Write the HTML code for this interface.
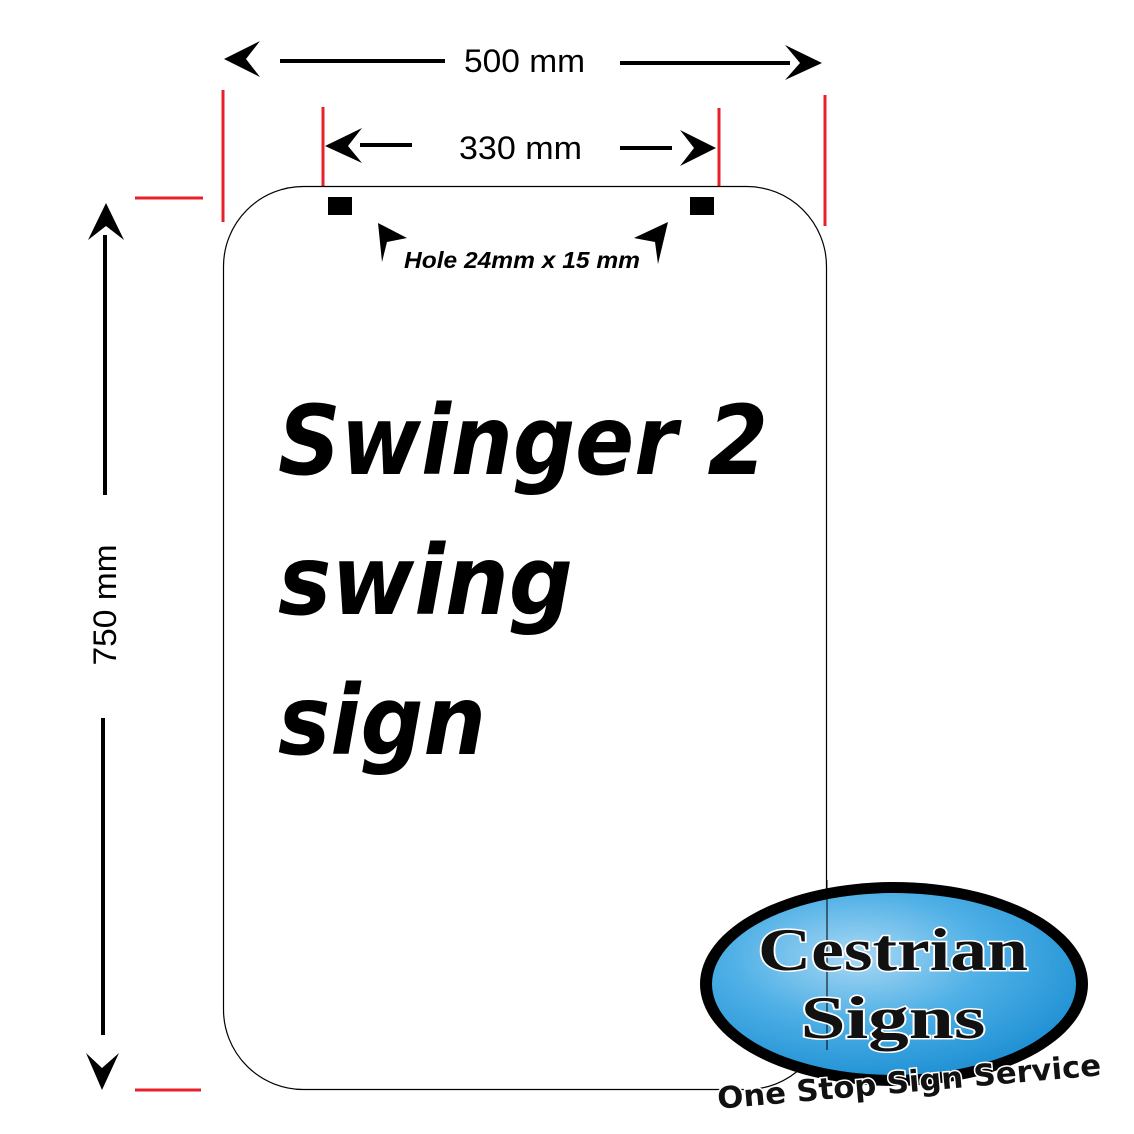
<!DOCTYPE html>
<html><head><meta charset="utf-8"><style>
html,body{margin:0;padding:0;background:#fff;}
svg{display:block;}
</style></head><body>
<svg width="1134" height="1134" viewBox="0 0 1134 1134" xmlns="http://www.w3.org/2000/svg">
<defs>
<radialGradient id="bl" cx="0.4" cy="0.35" r="0.7">
<stop offset="0" stop-color="#a9d8f4"/>
<stop offset="0.5" stop-color="#4fb0e6"/>
<stop offset="1" stop-color="#1d8fd3"/>
</radialGradient>
</defs>
<!-- 500 mm -->
<line x1="280" y1="61" x2="445" y2="61" stroke="#000" stroke-width="4"/>
<line x1="620" y1="63" x2="790" y2="63" stroke="#000" stroke-width="4"/>
<path d="M224,59 L260,41 L246,59 L260,77 Z" fill="#000"/>
<path d="M822,63 L785,45 L800,63 L785,80 Z" fill="#000"/>
<text x="464" y="72" font-family="Liberation Sans, sans-serif" font-size="32" textLength="121" lengthAdjust="spacingAndGlyphs">500 mm</text>
<!-- red lines -->
<g stroke="#e8202a" stroke-width="3">
<line x1="223" y1="90" x2="223" y2="222"/>
<line x1="825" y1="95" x2="825" y2="226"/>
<line x1="323" y1="107" x2="323" y2="186"/>
<line x1="719" y1="108" x2="719" y2="186"/>
<line x1="135" y1="198" x2="203" y2="198"/>
<line x1="135" y1="1090" x2="201" y2="1090"/>
</g>
<!-- 330 mm -->
<line x1="360" y1="145" x2="412" y2="145" stroke="#000" stroke-width="4"/>
<line x1="620" y1="148" x2="672" y2="148" stroke="#000" stroke-width="4"/>
<path d="M325,146 L362,128 L348,146 L362,163 Z" fill="#000"/>
<path d="M716,148 L680,130 L694,148 L680,166 Z" fill="#000"/>
<text x="459" y="159" font-family="Liberation Sans, sans-serif" font-size="32" textLength="123" lengthAdjust="spacingAndGlyphs">330 mm</text>
<!-- sign -->
<rect x="223.5" y="186.5" width="603" height="903" rx="80" ry="80" fill="none" stroke="#000" stroke-width="1.2"/>
<rect x="328" y="197" width="24" height="18" fill="#000"/>
<rect x="690" y="197" width="24" height="18" fill="#000"/>
<path d="M343,223 L347,262 L352,242 L372,238 Z" transform="translate(35,0)" fill="#000"/>
<path d="M668,222 L658,264 L655,242 L634,238 Z" fill="#000"/>
<text x="404" y="268" font-family="Liberation Sans, sans-serif" font-size="23" font-weight="bold" font-style="italic" textLength="236" lengthAdjust="spacingAndGlyphs">Hole 24mm x 15 mm</text>
<!-- 750 mm -->
<line x1="105" y1="235" x2="105" y2="495" stroke="#000" stroke-width="4"/>
<line x1="103" y1="718" x2="103" y2="1035" stroke="#000" stroke-width="4"/>
<path d="M106,203 L88,240 L106,226 L124,240 Z" fill="#000"/>
<path d="M102,1090 L86,1053 L102,1068 L119,1053 Z" fill="#000"/>
<text transform="translate(116,605) rotate(-90)" font-family="Liberation Sans, sans-serif" font-size="32" text-anchor="middle" textLength="121" lengthAdjust="spacingAndGlyphs">750 mm</text>
<!-- main text -->
<g font-family="DejaVu Sans, Liberation Sans, sans-serif" font-weight="bold" font-style="italic" font-size="96" fill="#000">
<text x="278" y="474" textLength="490" lengthAdjust="spacingAndGlyphs">Swinger 2</text>
<text x="278" y="614" textLength="295" lengthAdjust="spacingAndGlyphs">swing</text>
<text x="278" y="754" textLength="208" lengthAdjust="spacingAndGlyphs">sign</text>
</g>
<!-- logo -->
<ellipse cx="894" cy="984" rx="194" ry="102" fill="#000"/>
<ellipse cx="894" cy="984" rx="182" ry="91" fill="url(#bl)"/>
<line x1="827" y1="880" x2="827" y2="1050" stroke="#000" stroke-width="1"/>
<g font-family="Liberation Serif, serif" font-weight="bold" fill="#111" stroke="#fff" stroke-width="3" paint-order="stroke">
<text x="893" y="970" font-size="60" text-anchor="middle" textLength="270" lengthAdjust="spacingAndGlyphs">Cestrian</text>
<text x="893" y="1038" font-size="60" text-anchor="middle" textLength="185" lengthAdjust="spacingAndGlyphs">Signs</text>
</g>
<text transform="translate(910,1092) rotate(-5)" font-family="DejaVu Sans, Liberation Sans, sans-serif" font-weight="bold" font-size="30" fill="#111" stroke="#fff" stroke-width="3" paint-order="stroke" text-anchor="middle" textLength="385" lengthAdjust="spacingAndGlyphs">One Stop Sign Service</text>
</svg>
</body></html>
